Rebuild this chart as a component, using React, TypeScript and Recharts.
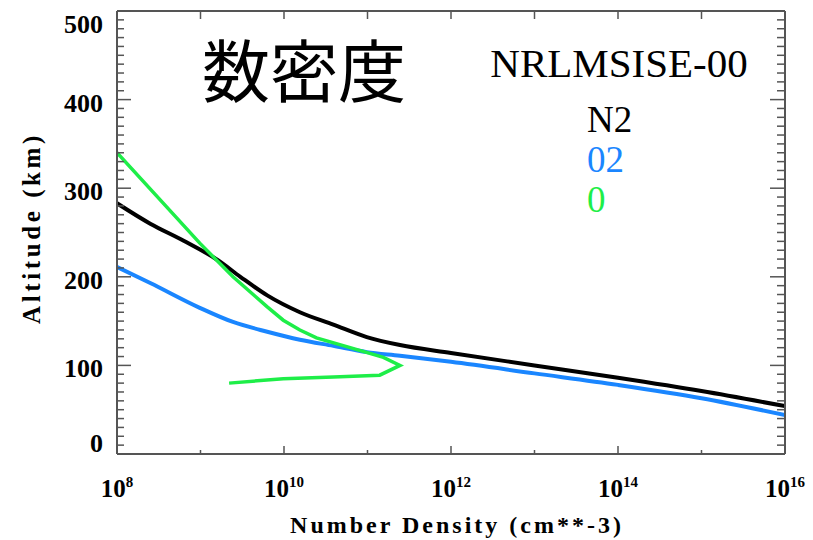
import { LineChart, Line, XAxis, YAxis } from 'recharts'

// NRLMSISE-00 number density profiles (cm^-3 vs km)
const n2Density = [1e8, 2.5e8, 6.2e8, 1.6e9, 3.0e9, 6.3e9, 1.55e10, 3.9e10, 9.8e10, 2.45e11, 1e12, 1e13, 1e14, 1e15, 1e16]
const n2Altitude = [283, 260, 241, 219, 200, 179, 160, 146, 132, 123, 114, 100, 86, 71, 54]

const o2Density = [1e8, 2.5e8, 9.8e8, 2.45e9, 6.3e9, 1.55e10, 3.9e10, 9.8e10, 2.45e11, 1e12, 1e13, 1e14, 1e15, 1e16]
const o2Altitude = [211, 193, 165, 149, 138, 129, 122, 115, 111, 104, 91, 78, 63, 44]

const oDensity = [1e8, 9.8e8, 2.45e9, 6.3e9, 9.8e9, 1.55e10, 2.45e10, 6.2e10, 1.55e11, 2.45e11, 1.4e11, 3.9e10, 9.8e9, 2.2e9]
const oAltitude = [340, 238, 200, 166, 151, 140, 131, 120, 109, 100, 89, 87, 85, 80]

const xTicks = [1e8, 1e9, 1e10, 1e11, 1e12, 1e13, 1e14, 1e15, 1e16]
const yMajorTicks = [0, 100, 200, 300, 400, 500]
const yTicks = Array.from({ length: 51 }, (_, i) => i * 10)

const toRows = (n: number[], h: number[]) => n.map((v, i) => ({ n: v, h: h[i] }))
const n2Data = toRows(n2Density, n2Altitude)
const o2Data = toRows(o2Density, o2Altitude)
const oData = toRows(oDensity, oAltitude)

const AXIS = '#555555'
const FONT = '"Liberation Serif", "Times New Roman", serif'
const BLUE = '#1a86ff'
const GREEN = '#1eee48'

const BottomTick = ({ x, y, payload }: any) => {
  const exp = Math.round(Math.log10(payload.value))
  const major = exp % 2 === 0
  return (
    <g>
      <line x1={x} y1={y} x2={x} y2={y - (major ? 8 : 4)} stroke={AXIS} strokeWidth={1.5} />
      {major && (
        <text x={x} y={y + 43} textAnchor="middle" fontFamily={FONT} fontWeight="bold" fontSize={25} fill="#000">
          <tspan>10</tspan>
          <tspan dy={-10} fontSize={15}>{exp}</tspan>
        </text>
      )}
    </g>
  )
}

const TopTick = ({ x, y }: any) => (
  <line x1={x} y1={y} x2={x} y2={y + 8} stroke={AXIS} strokeWidth={1.5} />
)

const LeftTick = ({ x, y, payload }: any) => {
  const v = payload.value
  const major = yMajorTicks.includes(v)
  const dy = v === 500 ? 22 : v === 0 ? -2 : 12
  return (
    <g>
      <line x1={x} y1={y} x2={x + (major ? 14 : 7)} y2={y} stroke={AXIS} strokeWidth={1.5} />
      {major && (
        <text x={x - 14} y={y + dy} textAnchor="end" fontFamily={FONT} fontWeight="bold" fontSize={26} fill="#000">
          {v}
        </text>
      )}
    </g>
  )
}

const RightTick = ({ x, y, payload }: any) => {
  const major = yMajorTicks.includes(payload.value)
  return <line x1={x} y1={y} x2={x - (major ? 15 : 8)} y2={y} stroke={AXIS} strokeWidth={1.5} />
}

export default function App() {
  return (
    <div style={{ position: 'absolute', left: 0, top: 0, width: 813, height: 540, background: '#fff' }}>
      <LineChart width={813} height={540} margin={{ top: 0, right: 0, bottom: 0, left: 0 }}>
        <XAxis
          dataKey="n"
          type="number"
          scale="log"
          domain={[1e8, 1e16]}
          allowDataOverflow
          ticks={xTicks}
          interval={0}
          height={86}
          tickSize={0}
          tickMargin={0}
          tickLine={false}
          axisLine={{ stroke: AXIS, strokeWidth: 2 }}
          tick={BottomTick}
        />
        <XAxis
          xAxisId="top"
          orientation="top"
          dataKey="n"
          type="number"
          scale="log"
          domain={[1e8, 1e16]}
          allowDataOverflow
          ticks={xTicks}
          interval={0}
          height={11}
          tickSize={0}
          tickMargin={0}
          tickLine={false}
          axisLine={{ stroke: AXIS, strokeWidth: 2 }}
          tick={TopTick}
        />
        <YAxis
          type="number"
          domain={[0, 500]}
          allowDataOverflow
          ticks={yTicks}
          interval={0}
          width={117}
          tickSize={0}
          tickMargin={0}
          tickLine={false}
          axisLine={{ stroke: AXIS, strokeWidth: 2 }}
          tick={LeftTick}
        />
        <YAxis
          yAxisId="right"
          orientation="right"
          type="number"
          domain={[0, 500]}
          allowDataOverflow
          ticks={yTicks}
          interval={0}
          width={28}
          tickSize={0}
          tickMargin={0}
          tickLine={false}
          axisLine={{ stroke: AXIS, strokeWidth: 2 }}
          tick={RightTick}
        />
        <Line data={n2Data} dataKey="h" type="monotone" stroke="#000000" strokeWidth={4} dot={false} isAnimationActive={false} />
        <Line data={o2Data} dataKey="h" type="monotone" stroke={BLUE} strokeWidth={4} dot={false} isAnimationActive={false} />
        <Line data={oData} dataKey="h" type="linear" stroke={GREEN} strokeWidth={3.5} dot={false} isAnimationActive={false} />
      </LineChart>
      <svg width={813} height={540} style={{ position: 'absolute', left: 0, top: 0, pointerEvents: 'none' }}>
        <text x={304} y={97} textAnchor="middle" fontFamily='"Noto Sans CJK JP", sans-serif' fontSize={68} fill="#000">
          数密度
        </text>
        <text x={619} y={77} textAnchor="middle" fontFamily={FONT} fontSize={41} fill="#000">
          NRLMSISE-00
        </text>
        <text x={587} y={132} fontFamily={FONT} fontSize={37} fill="#000">N2</text>
        <text x={587} y={172} fontFamily={FONT} fontSize={37} fill={BLUE}>02</text>
        <text x={587} y={212} fontFamily={FONT} fontSize={37} fill={GREEN}>0</text>
        <text x={457} y={533} textAnchor="middle" fontFamily={FONT} fontWeight="bold" fontSize={24} letterSpacing={3} fill="#000">
          Number Density (cm**-3)
        </text>
        <text
          x={0}
          y={0}
          transform="translate(40 228) rotate(-90)"
          textAnchor="middle"
          fontFamily={FONT}
          fontWeight="bold"
          fontSize={25}
          letterSpacing={3.6}
          fill="#000"
        >
          Altitude (km)
        </text>
      </svg>
    </div>
  )
}
